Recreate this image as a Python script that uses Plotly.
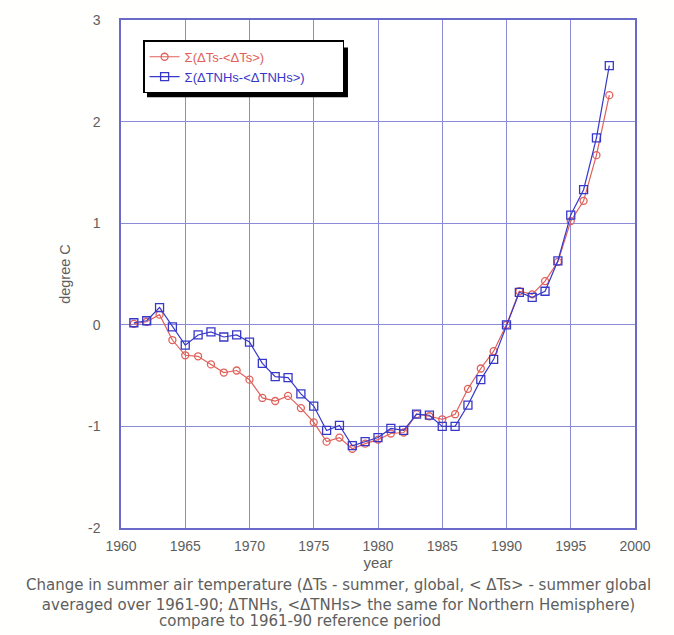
import plotly.graph_objects as go

years = list(range(1961, 1999))

# Global summer anomaly cumulative sum, Σ(ΔTs-<ΔTs>)
global_vals = [0.01, 0.03, 0.10, -0.15, -0.30, -0.31, -0.39, -0.47, -0.45, -0.54,
               -0.72, -0.75, -0.70, -0.82, -0.96, -1.15, -1.11, -1.22, -1.17, -1.13,
               -1.07, -1.06, -0.88, -0.90, -0.93, -0.88, -0.63, -0.43, -0.26, 0.00,
               0.33, 0.30, 0.43, 0.62, 1.02, 1.22, 1.67, 2.26]

# Northern Hemisphere summer anomaly cumulative sum, Σ(ΔTNHs-<ΔTNHs>)
nh_vals = [0.02, 0.04, 0.17, -0.02, -0.20, -0.10, -0.07, -0.12, -0.10, -0.17,
           -0.38, -0.51, -0.52, -0.68, -0.80, -1.04, -0.99, -1.19, -1.15, -1.11,
           -1.02, -1.04, -0.88, -0.89, -1.00, -1.00, -0.79, -0.54, -0.34, 0.00,
           0.32, 0.27, 0.33, 0.63, 1.08, 1.33, 1.84, 2.55]

x_ticks = [1960, 1965, 1970, 1975, 1980, 1985, 1990, 1995, 2000]
y_ticks = [-2, -1, 0, 1, 2, 3]
y_labels = ["-2", "-1", "0", "1", "2", "3"]

caption_main = ("Change in summer air temperature (ΔTs - summer, global, &lt; ΔTs&gt; - summer global<br>"
                "averaged over 1961-90; ΔTNHs, &lt;ΔTNHs&gt; the same for Northern Hemisphere)")
caption_last = "compare to 1961-90 reference period"

red = "#e0605a"
blue = "#3838c8"
frame = "#6a6ac8"
grid = "#8a8ad8"
txt = "#5e5e5e"

font_family = "Liberation Sans, Arial, sans-serif"
caption_family = "DejaVu Sans, sans-serif"
pad = "\u00a0" * 9

fig = go.Figure()
fig.add_trace(go.Scatter(
    x=years, y=global_vals, mode="lines+markers",
    name=f'<span style="color:{red}">Σ(ΔTs-&lt;ΔTs&gt;)</span>',
    line=dict(color=red, width=1.2),
    marker=dict(symbol="circle-open", size=7, color=red, line=dict(width=1.3)),
))
fig.add_trace(go.Scatter(
    x=years, y=nh_vals, mode="lines+markers",
    name=f'<span style="color:{blue}">Σ(ΔTNHs-&lt;ΔTNHs&gt;)</span>{pad}',
    line=dict(color=blue, width=1.2),
    marker=dict(symbol="square-open", size=8, color=blue, line=dict(width=1.3)),
))

# drop shadow behind the legend box
fig.add_shape(
    type="rect", xref="paper", yref="paper", layer="above",
    x0=0.0506, x1=0.4416, y0=0.848, y1=0.946,
    fillcolor="#000000", line=dict(width=0),
)

fig.update_layout(
    width=674, height=635,
    margin=dict(l=121, r=39, t=18, b=107),
    paper_bgcolor="#fffffd",
    plot_bgcolor="#ffffff",
    font=dict(family=font_family, size=14, color=txt),
    showlegend=True,
    legend=dict(
        x=0.043, y=0.96, xanchor="left", yanchor="top",
        bgcolor="#ffffff", bordercolor="#000000", borderwidth=1.5,
        font=dict(size=13, color=txt),
        itemwidth=30, tracegroupgap=0,
    ),
    xaxis=dict(
        range=[1960, 2000], tickvals=x_ticks,
        showgrid=True, gridcolor=grid, gridwidth=1,
        showline=True, linecolor=frame, linewidth=1.5, mirror=True,
        zeroline=False, ticks="outside", ticklen=4, tickcolor="rgba(0,0,0,0)",
        title=dict(text="year", standoff=2, font=dict(size=15, color=txt)),
        tickfont=dict(size=14, color=txt),
    ),
    yaxis=dict(
        range=[-2, 3], tickvals=y_ticks, ticktext=y_labels,
        showgrid=True, gridcolor=grid, gridwidth=1,
        showline=True, linecolor=frame, linewidth=1.5, mirror=True,
        zeroline=False, ticks="outside", ticklen=16, tickcolor="rgba(0,0,0,0)",
        title=dict(text="degree C", standoff=14, font=dict(size=14.5, color=txt)),
        tickfont=dict(size=14, color=txt),
    ),
)

fig.add_annotation(
    text=caption_main, xref="paper", yref="paper",
    x=0.424, y=-0.090, xanchor="center", yanchor="top",
    showarrow=False, align="center",
    font=dict(size=15, color=txt, family=caption_family),
)
fig.add_annotation(
    text=caption_last, xref="paper", yref="paper",
    x=0.348, y=-0.184, xanchor="center", yanchor="middle",
    showarrow=False, align="center",
    font=dict(size=15, color=txt, family=caption_family),
)

fig.write_html("out.html")
